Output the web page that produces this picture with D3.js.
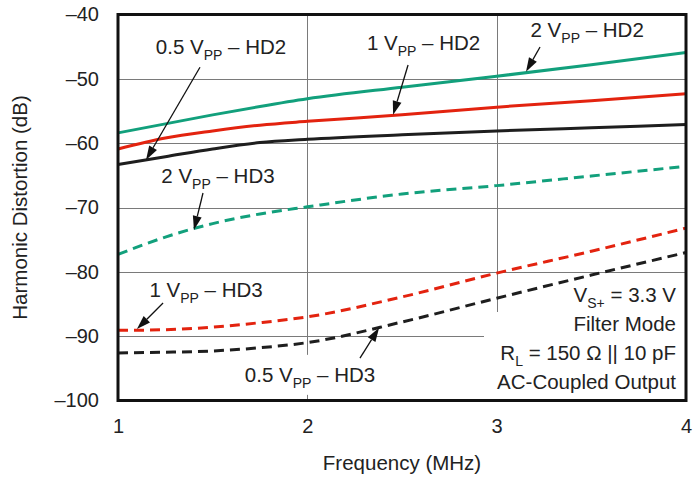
<!DOCTYPE html>
<html>
<head>
<meta charset="utf-8">
<script src="https://cdn.jsdelivr.net/npm/d3@7"></script>
<style>
  html, body { margin: 0; padding: 0; background: #fff; }
  svg { display: block; font-family: "Liberation Sans", Arial, Helvetica, sans-serif; }
</style>
</head>
<body>
<svg id="chart" width="693" height="481"></svg>
<script>
// --- data ---
const freqs = [1, 1.25, 1.5, 1.75, 2, 2.5, 3, 3.5, 4];          // MHz
const hd2_2vpp  = [-58.4, -57.0, -55.6, -54.3, -53.1, -51.3, -49.6, -47.8, -45.9];
const hd2_1vpp  = [-60.9, -59.2, -58.1, -57.2, -56.6, -55.6, -54.4, -53.4, -52.3];
const hd2_05vpp = [-63.3, -62.1, -60.9, -59.9, -59.4, -58.7, -58.1, -57.6, -57.1];
const hd3_2vpp  = [-77.3, -74.6, -72.5, -71.0, -69.9, -67.9, -66.6, -65.1, -63.6];
const hd3_1vpp  = [-89.1, -89.0, -88.6, -87.9, -87.0, -83.9, -80.2, -76.8, -73.2];
const hd3_05vpp = [-92.6, -92.5, -92.3, -91.8, -91.0, -87.8, -84.1, -80.5, -77.0];

const xTicks = [1, 2, 3, 4];
const yTicks = [-100, -90, -80, -70, -60, -50, -40];

const series = [
  { name: "2 VPP HD2",   values: hd2_2vpp,  color: "#12a07c", dashed: false },
  { name: "1 VPP HD2",   values: hd2_1vpp,  color: "#e3230f", dashed: false },
  { name: "0.5 VPP HD2", values: hd2_05vpp, color: "#1e1e1e", dashed: false },
  { name: "2 VPP HD3",   values: hd3_2vpp,  color: "#12a07c", dashed: true },
  { name: "1 VPP HD3",   values: hd3_1vpp,  color: "#e3230f", dashed: true },
  { name: "0.5 VPP HD3", values: hd3_05vpp, color: "#1e1e1e", dashed: true }
];

// callouts, all in data units: text anchor, arrow tail, arrow tip
const callouts = [
  { pre: "0.5 V", sub: "PP", post: " – HD2", tx: 1.544, ty: -46.1, from: [1.433, -48.2], to: [1.148, -62.6] },
  { pre: "1 V",   sub: "PP", post: " – HD2", tx: 2.614, ty: -45.5, from: [2.532, -47.85], to: [2.453, -55.6] },
  { pre: "2 V",   sub: "PP", post: " – HD2", tx: 3.478, ty: -43.5, from: [3.229, -45.05], to: [3.155, -48.9] },
  { pre: "2 V",   sub: "PP", post: " – HD3", tx: 1.528, ty: -66.2, from: [1.449, -67.75], to: [1.401, -73.5] },
  { pre: "1 V",   sub: "PP", post: " – HD3", tx: 1.465, ty: -83.9, from: [1.238, -84.85], to: [1.100, -88.9] },
  { pre: "0.5 V", sub: "PP", post: " – HD3", tx: 2.014, ty: -97.1, from: [2.278, -93.4], to: [2.379, -88.7], bg: true }
];

const conditions = [
  { pre: "V", sub: "S+", post: " = 3.3 V" },
  { pre: "Filter Mode", sub: "", post: "" },
  { pre: "R", sub: "L", post: " = 150 Ω || 10 pF" },
  { pre: "AC-Coupled Output", sub: "", post: "" }
];

// --- layout ---
const svg = d3.select("#chart");
const pLeft = 118, pRight = 686, pTop = 14.5, pBottom = 400.5;

const x = d3.scaleLinear().domain([1, 4]).range([pLeft, pRight]);
const y = d3.scaleLinear().domain([-100, -40]).range([pBottom, pTop]);

// grid
const grid = svg.append("g").attr("stroke", "#7a7a7a").attr("stroke-width", 1);
grid.selectAll("line.v")
  .data(xTicks.slice(1, -1))
  .enter().append("line")
    .attr("x1", d => Math.round(x(d)) + 0.5).attr("x2", d => Math.round(x(d)) + 0.5)
    .attr("y1", pTop).attr("y2", pBottom);
grid.selectAll("line.h")
  .data(yTicks.slice(1, -1))
  .enter().append("line")
    .attr("x1", pLeft).attr("x2", pRight)
    .attr("y1", d => Math.round(y(d)) + 0.5).attr("y2", d => Math.round(y(d)) + 0.5);

// white box behind the test conditions
svg.append("rect")
  .attr("x", 484).attr("y", 312)
  .attr("width", pRight - 484).attr("height", pBottom - 312)
  .attr("fill", "#fff");

// curves
const line = d3.line()
  .x((d, i) => x(freqs[i]))
  .y(d => y(d))
  .curve(d3.curveMonotoneX);

svg.append("g")
  .selectAll("path")
  .data(series)
  .enter().append("path")
    .attr("d", d => line(d.values))
    .attr("fill", "none")
    .attr("stroke", d => d.color)
    .attr("stroke-width", 3)
    .attr("stroke-dasharray", d => d.dashed ? "10,6" : null);

// callout labels + arrows
function subText(sel, d) {
  sel.append("tspan").text(d.pre);
  if (d.sub) {
    sel.append("tspan").attr("font-size", 14).attr("dy", 6).text(d.sub);
    sel.append("tspan").attr("dy", -6).text(d.post);
  }
}

const ann = svg.append("g");
callouts.forEach(c => {
  const g = ann.append("g");
  const t = g.append("text")
    .attr("x", x(c.tx)).attr("y", y(c.ty))
    .attr("text-anchor", "middle")
    .attr("font-size", 20.5)
    .attr("fill", "#222");
  subText(t, c);
  if (c.bg) {
    const b = t.node().getBBox();
    g.insert("rect", "text")
      .attr("x", b.x - 4).attr("y", b.y - 8)
      .attr("width", b.width + 8).attr("height", b.height + 12)
      .attr("fill", "#fff");
  }
  const x0 = x(c.from[0]), y0 = y(c.from[1]);
  const x1 = x(c.to[0]),   y1 = y(c.to[1]);
  const ang = Math.atan2(y1 - y0, x1 - x0);
  const hl = 14, hw = 4.5;
  const bx = x1 - hl * Math.cos(ang), by = y1 - hl * Math.sin(ang);
  g.append("line")
    .attr("x1", x0).attr("y1", y0).attr("x2", bx).attr("y2", by)
    .attr("stroke", "#111").attr("stroke-width", 1.3);
  g.append("path")
    .attr("d", `M${x1},${y1}L${bx + hw * Math.sin(ang)},${by - hw * Math.cos(ang)}L${bx - hw * Math.sin(ang)},${by + hw * Math.cos(ang)}Z`)
    .attr("fill", "#111");
});

// test conditions (right aligned)
svg.append("g")
  .selectAll("text")
  .data(conditions)
  .enter().append("text")
    .attr("x", 676)
    .attr("y", (d, i) => 302 + i * 29)
    .attr("text-anchor", "end")
    .attr("font-size", 20.5)
    .attr("fill", "#222")
    .each(function(d) { subText(d3.select(this), d); });

// frame
svg.append("rect")
  .attr("x", pLeft).attr("y", pTop)
  .attr("width", pRight - pLeft).attr("height", pBottom - pTop)
  .attr("fill", "none")
  .attr("stroke", "#111")
  .attr("stroke-width", 3);

// axes (labels only)
const fmt = d => d < 0 ? "–" + Math.abs(d) : String(d);
const yAxis = svg.append("g")
  .attr("transform", `translate(${pLeft},0)`)
  .call(d3.axisLeft(y).tickValues(yTicks).tickSize(0).tickPadding(19).tickFormat(fmt));
const xAxis = svg.append("g")
  .attr("transform", `translate(0,${pBottom})`)
  .call(d3.axisBottom(x).tickValues(xTicks).tickSize(0).tickPadding(18).tickFormat(fmt));
[yAxis, xAxis].forEach(a => {
  a.select(".domain").remove();
  a.selectAll("text")
    .attr("font-size", 20)
    .attr("font-family", "Liberation Sans, Arial, sans-serif")
    .attr("fill", "#222");
});

// axis titles
svg.append("text")
  .attr("x", (pLeft + pRight) / 2).attr("y", 470)
  .attr("text-anchor", "middle")
  .attr("font-size", 20.5)
  .attr("fill", "#222")
  .text("Frequency (MHz)");

svg.append("text")
  .attr("transform", `translate(27,${(pTop + pBottom) / 2}) rotate(-90)`)
  .attr("text-anchor", "middle")
  .attr("font-size", 20.5)
  .attr("fill", "#222")
  .text("Harmonic Distortion (dB)");
</script>
</body>
</html>
